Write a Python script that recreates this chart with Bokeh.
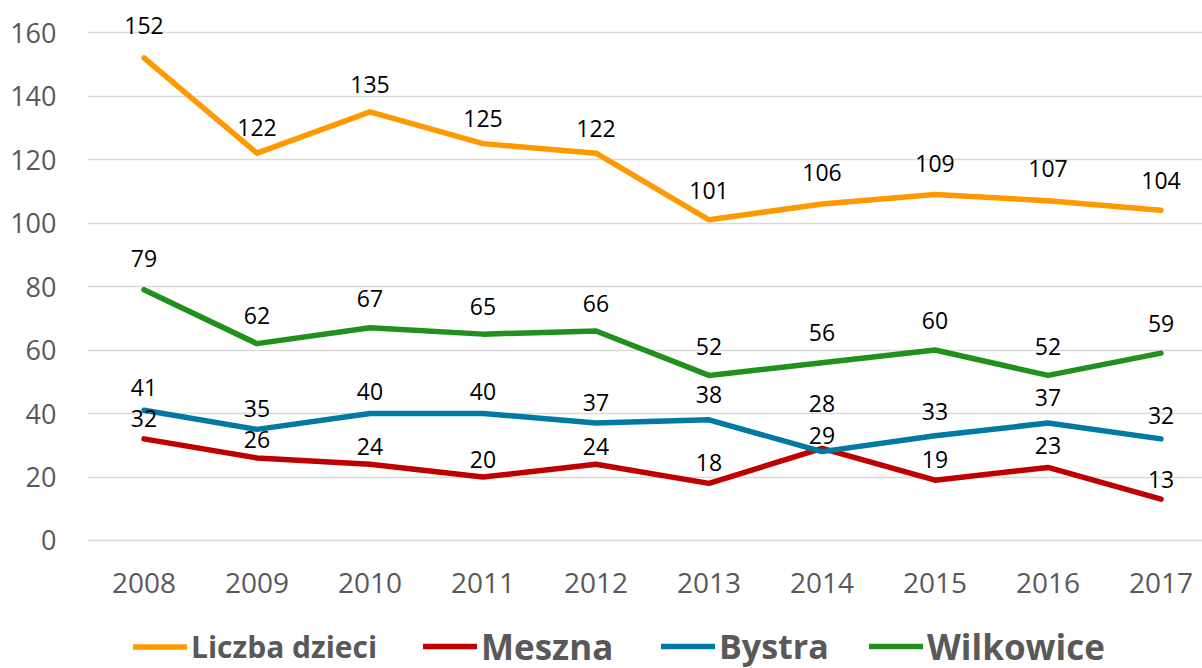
from bokeh.plotting import figure
from bokeh.layouts import column
from bokeh.models import ColumnDataSource, FixedTicker, Legend, LegendItem, Range1d
from bokeh.core.properties import value
from bokeh.embed import file_html
from bokeh.resources import INLINE

# ---- data ----
years = ["2008", "2009", "2010", "2011", "2012", "2013", "2014", "2015", "2016", "2017"]
liczba_dzieci = [152, 122, 135, 125, 122, 101, 106, 109, 107, 104]
meszna = [32, 26, 24, 20, 24, 18, 29, 19, 23, 13]
bystra = [41, 35, 40, 40, 37, 38, 28, 33, 37, 32]
wilkowice = [79, 62, 67, 65, 66, 52, 56, 60, 52, 59]
y_ticks = [0, 20, 40, 60, 80, 100, 120, 140, 160]

# label lift above each point (pixels)
lift_liczba = [32, 26, 27, 25, 25, 29, 31, 31, 32, 30]
lift_meszna = [20, 18, 18, 18, 18, 21, 13, 21, 22, 20]
lift_bystra = [23, 21, 22, 22, 21, 25, 48, 24, 26, 23]
lift_wilkowice = [31, 28, 29, 28, 27, 29, 30, 30, 29, 30]

FONT = "Open Sans"
GRAY = "#595959"
FRAME_LEFT = 87

series = [
    ("Liczba dzieci", liczba_dzieci, lift_liczba, "#FF9900", 30, 133),
    ("Meszna", meszna, lift_meszna, "#C00000", 35, 423),
    ("Bystra", bystra, lift_bystra, "#0079A3", 34, 661),
    ("Wilkowice", wilkowice, lift_wilkowice, "#22901C", 35, 869),
]

xs = list(range(len(years)))

p = figure(width=1202, height=620,
           x_range=Range1d(-0.5, 9.367), y_range=Range1d(-1.26, 170.08),
           output_backend="svg", toolbar_location=None,
           min_border_left=FRAME_LEFT, min_border_right=0, min_border_top=0, min_border_bottom=76)
p.outline_line_color = None
p.background_fill_color = "white"
p.border_fill_color = "white"

p.xgrid.visible = False
p.ygrid.grid_line_color = "#D9D9D9"
p.ygrid.grid_line_width = 1.5

p.yaxis.ticker = FixedTicker(ticks=y_ticks)
p.yaxis.axis_line_color = None
p.yaxis.major_tick_line_color = None
p.yaxis.minor_tick_line_color = None
p.yaxis.major_label_text_font = FONT
p.yaxis.major_label_text_font_size = "27px"
p.yaxis.major_label_text_color = GRAY
p.yaxis.major_label_standoff = 25

p.xaxis.ticker = FixedTicker(ticks=xs)
p.xaxis.major_label_overrides = {i: y for i, y in enumerate(years)}
p.xaxis.axis_line_color = None
p.xaxis.major_tick_line_color = None
p.xaxis.minor_tick_line_color = None
p.xaxis.major_label_text_font = FONT
p.xaxis.major_label_text_font_size = "28px"
p.xaxis.major_label_text_color = GRAY
p.xaxis.major_label_standoff = 22

for name, vals, lifts, color, fs, lx in series:
    p.line(xs, vals, line_color=color, line_width=5.5, line_cap="round", line_join="round")

for name, vals, lifts, color, fs, lx in series:
    src = ColumnDataSource(dict(x=xs, y=vals, t=[str(v) for v in vals], dy=[-d for d in lifts]))
    p.text(x="x", y="y", text="t", y_offset="dy", source=src,
           text_font=value(FONT), text_font_size="23px", text_color="black",
           text_align="center", text_baseline="middle")

# ---- legend strip (its frame is aligned with the chart's frame) ----
p2 = figure(width=1202, height=48, x_range=Range1d(100, 200), y_range=Range1d(1000, 1100),
            x_axis_type=None, y_axis_type=None,
            output_backend="svg", toolbar_location=None,
            min_border_left=FRAME_LEFT, min_border_right=0, min_border_top=0, min_border_bottom=0)
p2.outline_line_color = None
p2.grid.visible = False
p2.border_fill_color = "white"
p2.background_fill_color = "white"

for name, vals, lifts, color, fs, lx in series:
    # proxy line (outside the strip's visible range) that only feeds the legend glyph
    r = p2.line(xs, vals, line_color=color, line_width=5.5, line_cap="round")
    h = int(round(1.36 * fs))
    leg = Legend(items=[LegendItem(label=name, renderers=[r])],
                 location=(lx - FRAME_LEFT, 22 - h / 2),
                 padding=0, margin=0, spacing=0,
                 border_line_color=None, background_fill_alpha=0,
                 glyph_width=54, label_standoff=4,
                 label_text_font=FONT, label_text_font_style="bold",
                 label_text_font_size=f"{fs}px", label_text_color=GRAY,
                 label_height=h, glyph_height=h)
    p2.add_layout(leg, "center")

layout = column(p, p2, spacing=0)
open("out.html", "w").write(file_html(layout, INLINE))
